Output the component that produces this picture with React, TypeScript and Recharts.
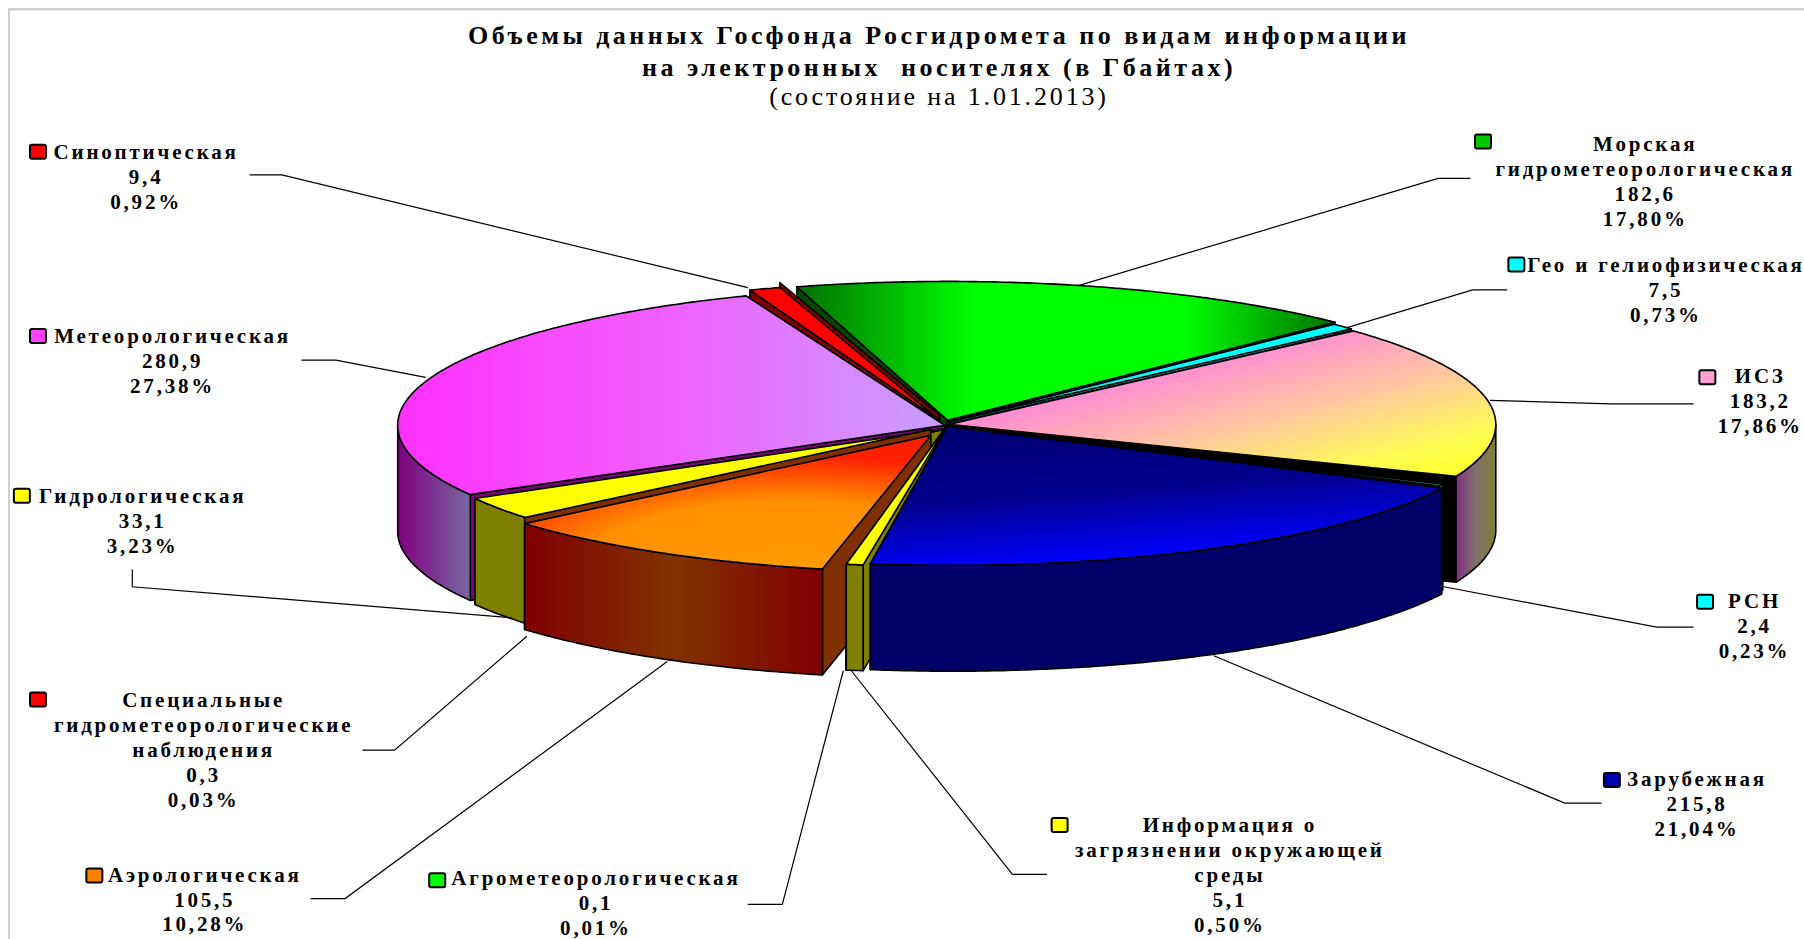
import React from 'react';
import { PieChart, Pie } from 'recharts';

const CATEGORIES = ['Морская гидрометеорологическая','Гео и гелиофизическая','ИСЗ','РСН','Зарубежная','Информация о загрязнении окружающей среды','Агрометеорологическая','Специальные гидрометеорологические наблюдения','Аэрологическая','Гидрологическая','Метеорологическая','Синоптическая'];
const VALUES = [182.6,7.5,183.2,2.4,215.8,5.1,0.1,0.3,105.5,33.1,280.9,9.4];
const VALUE_TEXT = ['182,6','7,5','183,2','2,4','215,8','5,1','0,1','0,3','105,5','33,1','280,9','9,4'];
const PERCENT_TEXT = ['17,80%','0,73%','17,86%','0,23%','21,04%','0,50%','0,01%','0,03%','10,28%','3,23%','27,38%','0,92%'];
const NAME_LINES = [['Морская','гидрометеорологическая'],['Гео и гелиофизическая'],['ИСЗ'],['РСН'],['Зарубежная'],['Информация о','загрязнении окружающей','среды'],['Агрометеорологическая'],['Специальные','гидрометеорологические','наблюдения'],['Аэрологическая'],['Гидрологическая'],['Метеорологическая'],['Синоптическая']];
const TITLE_LINES = ['Объемы данных Госфонда Росгидромета по видам информации','на электронных  носителях (в Гбайтах)'];
const SUBTITLE = '(состояние на 1.01.2013)';
const chartData = CATEGORIES.map((name, i) => ({ name, value: VALUES[i] }));

// layout (coordinates measured on the 1568-wide view, scaled below)
const S = 1804 / 1568;
const CX = 822 * S, CY = 368 * S, RX = 475.5 * S, K = 0.254, DEPTH = 92 * S;

const KEY_COLORS = ['#00c800','#00ffff','#ffa0d0','#00ffff','#0000b0','#ffff00','#00ff00','#ff0000','#ff8000','#ffff00','#ff40ff','#ff0000'];
const TOP_FILL = ['url(#gGreen)','#00ffff','url(#gPink)','#00ffff','url(#gBlue)','#ffff00','#00ff00','#ff0000','url(#gOrange)','#ffff00','url(#gMagenta)','#ff0000'];
const WALL_FILL = ['#006000','#008080','url(#wPink)','#008080','#000068','#808000','#008000','#800000','url(#wOrange)','#808000','url(#wMagenta)','#800000'];
const CUT_FILL = ['#004800','#008080','#000000','#000000','#000068','#808000','#808000','#800000','#803000','#808000','#800080','#800000'];
// per slice drawing tweaks: shift, angle rotation (degrees, +ve = counter-clockwise), trim of both edges, tip shift, lift of trailing cut face
const TWEAK = [
  { dx: 2, dy: -3, rot: 0, trim: 0, endTrim: 3, tx: 0, ty: 0, lift: 0 },
  { dx: 1, dy: -1, rot: 3, trim: 0, endTrim: 0, tx: 0, ty: 0, lift: 0 },
  { dx: 3, dy: 1, rot: 3, trim: 0, endTrim: 0, tx: 0, ty: 0, lift: 0 },
  { dx: 1, dy: 2, rot: 0, trim: 0, endTrim: 0, tx: 0, ty: 0, lift: 0 },
  { dx: 6, dy: 3, rot: 3, trim: 3.6, endTrim: 0, tx: -4, ty: 0, lift: 0 },
  { dx: -3, dy: 4, rot: 3.2, trim: 0, endTrim: 0, tx: 3, ty: 0, lift: 0 },
  { dx: 0, dy: 4, rot: 3, trim: 0, endTrim: 0, tx: 0, ty: 0, lift: 0 },
  { dx: 0, dy: 4, rot: 3, trim: 0, endTrim: 0, tx: 0, ty: 0, lift: 0 },
  { dx: -5, dy: 10, rot: 1, trim: 0, endTrim: 0, tx: -10, ty: 2, lift: 6 },
  { dx: 6, dy: 7, rot: 1.5, trim: 0, endTrim: 0, tx: -4, ty: -2, lift: 0 },
  { dx: -1, dy: 2, rot: 2, trim: 0, endTrim: 0, tx: 0, ty: 0, lift: 0 },
  { dx: -6, dy: -3, rot: 1, trim: 0, endTrim: 0, tx: 0, ty: 0, lift: 5 },
];
const PAINT_ORDER = [0, 11, 1, 2, 3, 10, 9, 7, 8, 6, 5, 4];
const LABELS = [
  { key: [1289,123], cx: 1430, y: 126, leader: [[1278,155],[1250,155],[938,248]] },
  { key: [1318,230], cx: 1448, y: 231, leader: [[1310,252],[1280,252],[1170,285]] },
  { key: [1484,328], cx: 1530, y: 328, leader: [[1472,351],[1400,351],[1295,348]] },
  { key: [1482,523], cx: 1525, y: 523, leader: [[1472,545],[1440,545],[1255,510]] },
  { key: [1401,678], cx: 1475, y: 678, leader: [[1392,698],[1360,698],[1055,570]] },
  { key: [921,717], cx: 1069, y: 718, leader: [[910,760],[880,760],[740,583]] },
  { key: [380,765], cx: 518, y: 764, leader: [[650,786],[680,786],[733,583]] },
  { key: [33,608], cx: 177, y: 609, leader: [[315,652],[343,652],[458,553]] },
  { key: [82,761], cx: 178, y: 761, leader: [[270,781],[300,781],[580,575]] },
  { key: [19,431], cx: 124, y: 432, leader: [[115,495],[115,510],[445,537]] },
  { key: [33,292], cx: 150, y: 293, leader: [[262,313],[292,313],[370,328]] },
  { key: [33,132], cx: 127, y: 133, leader: [[217,152],[245,152],[650,250]] },
];
const LINE_H = 21.7 * S;
const FONT = '"Liberation Serif", serif';

const rad = (d: number) => (d * Math.PI) / 180;

function Slice(props: any) {
  const i = props.index;
  const t = TWEAK[i];
  const a0 = props.startAngle + t.rot - t.trim;
  const a1 = props.endAngle + t.rot + t.endTrim;
  const r = props.outerRadius;
  const x0 = props.cx + t.dx, y0 = props.cy + t.dy;
  const tip = [x0 + t.tx, y0 + t.ty];
  const pt = (a: number, dy = 0) => [x0 + r * Math.cos(rad(a)), y0 - r * K * Math.sin(rad(a)) + dy];
  const steps = Math.max(2, Math.ceil(Math.abs(a1 - a0) * 2));
  const arc: number[] = [];
  for (let s = 0; s <= steps; s++) arc.push(a0 + ((a1 - a0) * s) / steps);
  const poly = (ps: number[][]) => ps.map((p) => `${p[0].toFixed(1)},${p[1].toFixed(1)}`).join(' ');
  const top = [tip, ...arc.map((a) => pt(a))];
  const vis = arc.filter((a) => Math.sin(rad(a)) <= 0.001);
  const wall = [...vis.map((a) => pt(a)), ...vis.slice().reverse().map((a) => pt(a, DEPTH))];
  const cut = (a: number, lift = 0) => [[tip[0], tip[1] - lift], pt(a, -lift), pt(a, DEPTH), [tip[0], tip[1] + DEPTH]];
  const stroke = { stroke: '#000', strokeWidth: 1.6, strokeLinejoin: 'round' as const };
  return (
    <g>
      <polygon points={poly(cut(a1, t.lift))} fill={CUT_FILL[i]} {...stroke} />
      <polygon points={poly(cut(a0))} fill={CUT_FILL[i]} {...stroke} />
      {vis.length > 1 && <polygon points={poly(wall)} fill={WALL_FILL[i]} {...stroke} />}
      <polygon points={poly(top)} fill={TOP_FILL[i]} {...stroke} />
    </g>
  );
}

function SliceLabel(props: any) {
  const i = props.index;
  const l = LABELS[i];
  const lines = [...NAME_LINES[i], VALUE_TEXT[i], PERCENT_TEXT[i]];
  return (
    <g>
      <polyline points={l.leader.map((p) => `${p[0] * S},${p[1] * S}`).join(' ')} fill="none" stroke="#000" strokeWidth={1.2} />
      <rect x={l.key[0] * S - 8} y={l.key[1] * S - 7} width={16} height={14} rx={2} fill={KEY_COLORS[i]} stroke="#000" strokeWidth={2} />
      {lines.map((s, j) => (
        <text key={j} x={l.cx * S} y={l.y * S + j * LINE_H + 6} textAnchor="middle" fontFamily={FONT} fontWeight={700} fontSize={21} letterSpacing={2.8} fill="#000">{s}</text>
      ))}
    </g>
  );
}

const grad = (id: string, stops: [number, string][], x2 = 1, y2 = 0) => (
  <linearGradient id={id} x1="0" y1="0" x2={x2} y2={y2}>
    {stops.map(([o, c]) => <stop key={o} offset={o} stopColor={c} />)}
  </linearGradient>
);

export default function App() {
  return (
    <div style={{ position: 'absolute', left: 0, top: 0, width: 1804, height: 939, overflow: 'hidden', background: '#fff' }}>
      <PieChart width={1804} height={939} margin={{ top: 0, right: 0, bottom: 0, left: 0 }}>
        <defs>
          {grad('gGreen', [[0,'#007000'],[0.33,'#00ff00'],[0.72,'#00ff00'],[1,'#007000']])}
          {grad('gPink', [[0,'#ff60e0'],[0.35,'#ff90d0'],[0.6,'#ffc8a0'],[0.85,'#ffff50'],[1,'#ffff20']], 1, 1)}
          {grad('gMagenta', [[0,'#ff30ff'],[0.5,'#f060ff'],[1,'#c8a0ff']])}
          {grad('gBlue', [[0,'#000070'],[0.55,'#000090'],[1,'#0000ff']], 0.3, 1)}
          <radialGradient id="gOrange" cx={0.65} cy={1} r={0.85}>
            <stop offset={0} stopColor="#ff9c00" />
            <stop offset={0.6} stopColor="#ff9000" />
            <stop offset={1} stopColor="#ff2000" />
          </radialGradient>
          {grad('wPink', [[0,'#803080'],[0.5,'#807070'],[1,'#808030']])}
          {grad('wMagenta', [[0,'#800080'],[1,'#7868a0']])}
          {grad('wOrange', [[0,'#800000'],[0.5,'#803300'],[1,'#800000']])}
        </defs>
        <rect x={8} y={8} width={1796} height={2.5} fill="#cfcfcf" />
        <rect x={8} y={8} width={2} height={931} fill="#cfcfcf" />
        {TITLE_LINES.map((s, j) => (
          <text key={j} x={939} y={[44, 76][j]} textAnchor="middle" fontFamily={FONT} fontWeight={700} fontSize={26} letterSpacing={3.5} fill="#000" xmlSpace="preserve">{s}</text>
        ))}
        <text x={939} y={105} textAnchor="middle" fontFamily={FONT} fontSize={26} letterSpacing={2.85} fill="#000">{SUBTITLE}</text>
        {PAINT_ORDER.map((idx) => {
          const shape = (p: any) => (p.index === idx ? <Slice {...p} /> : <g />);
          return (
            <Pie key={idx} data={chartData} dataKey="value" nameKey="name" cx={CX} cy={CY} outerRadius={RX} startAngle={106} endAngle={-254} isAnimationActive={false} stroke="none" shape={shape} activeShape={shape} inactiveShape={shape} />
          );
        })}
        <Pie data={chartData} dataKey="value" nameKey="name" cx={CX} cy={CY} outerRadius={RX} startAngle={106} endAngle={-254} isAnimationActive={false} fill="none" stroke="none" shape={() => <g />} activeShape={() => <g />} inactiveShape={() => <g />} label={(p: any) => <SliceLabel {...p} />} labelLine={false} />
      </PieChart>
    </div>
  );
}
